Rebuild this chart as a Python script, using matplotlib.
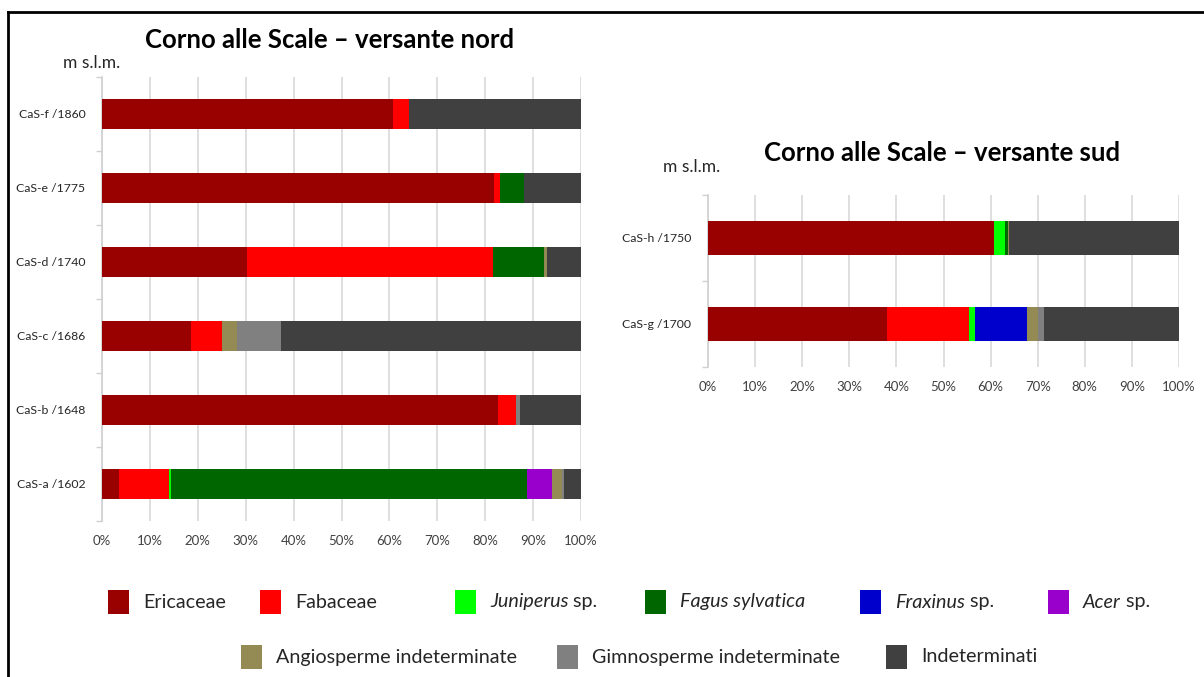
import matplotlib
matplotlib.use("Agg")
import matplotlib.pyplot as plt
from matplotlib.patches import Rectangle
from matplotlib.lines import Line2D
import numpy as np

plt.rcParams['font.family'] = ['Lato', 'DejaVu Sans']

# ---- data -------------------------------------------------------------
taxa = ["Ericaceae", "Fabaceae", "Juniperus", "Fagus sylvatica", "Fraxinus",
        "Acer", "Angiosperme indeterminate", "Gimnosperme indeterminate",
        "Indeterminati"]
colors = ["#990000", "#FF0000", "#00FF00", "#006600", "#0000CC",
          "#9900CC", "#948A54", "#808080", "#404040"]

# north slope, listed bottom to top
nord_labels = ["CaS-a /1602", "CaS-b /1648", "CaS-c /1686",
               "CaS-d /1740", "CaS-e /1775", "CaS-f /1860"]
nord_ericaceae = [3.6, 82.6, 18.5, 30.2, 81.8, 60.7]
nord_fabaceae = [10.4, 3.8, 6.5, 51.4, 1.2, 3.3]
nord_juniperus = [0.5, 0.0, 0.0, 0.0, 0.0, 0.0]
nord_fagus = [74.3, 0.0, 0.0, 10.6, 5.1, 0.0]
nord_fraxinus = [0.0, 0.0, 0.0, 0.0, 0.0, 0.0]
nord_acer = [5.2, 0.0, 0.0, 0.0, 0.0, 0.0]
nord_angio = [2.0, 0.0, 3.1, 0.8, 0.0, 0.0]
nord_gimno = [0.5, 0.8, 9.3, 0.0, 0.0, 0.0]
nord_indet = [3.5, 12.8, 62.6, 7.0, 11.9, 36.0]

# south slope, listed bottom to top
sud_labels = ["CaS-g /1700", "CaS-h /1750"]
sud_ericaceae = [38.1, 60.8]
sud_fabaceae = [17.3, 0.0]
sud_juniperus = [1.3, 2.2]
sud_fagus = [0.0, 0.6]
sud_fraxinus = [11.1, 0.0]
sud_acer = [0.0, 0.0]
sud_angio = [2.3, 0.3]
sud_gimno = [1.2, 0.0]
sud_indet = [28.7, 36.1]

nord_series = [nord_ericaceae, nord_fabaceae, nord_juniperus, nord_fagus,
               nord_fraxinus, nord_acer, nord_angio, nord_gimno, nord_indet]
sud_series = [sud_ericaceae, sud_fabaceae, sud_juniperus, sud_fagus,
              sud_fraxinus, sud_acer, sud_angio, sud_gimno, sud_indet]

# ---- figure -----------------------------------------------------------
W, H = 1204, 677
fig = plt.figure(figsize=(W / 100, H / 100), dpi=100)


def px(x, y):
    """pixel position (from top-left) to figure fraction"""
    return x / W, 1 - y / H


def stacked(ax, labels, series, bar_h, label_size):
    y = np.arange(len(labels))
    left = np.zeros(len(labels))
    for vals, c in zip(series, colors):
        vals = np.asarray(vals, dtype=float)
        ax.barh(y, vals, left=left, height=bar_h, color=c,
                edgecolor='none', zorder=3)
        left += vals
    ax.set_xlim(0, 100)
    ax.set_ylim(-0.5, len(labels) - 0.5)
    ax.set_yticks(y)
    ax.set_yticklabels(labels, fontsize=label_size, color='#262626')
    ax.set_yticks(np.arange(-0.5, len(labels)), minor=True)
    ax.tick_params(axis='y', which='major', length=0, pad=12)
    ax.tick_params(axis='y', which='minor', length=4, color='#d0d0d0',
                   width=1)
    ax.set_xticks(np.arange(0, 101, 10))
    ax.set_xticklabels([f"{v}%" for v in range(0, 101, 10)],
                       fontsize=9.5, color='#404040')
    ax.tick_params(axis='x', length=0, pad=10)
    ax.grid(axis='x', color='#d9d9d9', linewidth=1.2, zorder=0)
    for s in ['top', 'right', 'bottom']:
        ax.spines[s].set_visible(False)
    ax.spines['left'].set_color('#d0d0d0')
    ax.spines['left'].set_linewidth(1.2)


# north chart
x0, y0 = px(102, 521)
ax1 = fig.add_axes([x0, y0, 479 / W, 444 / H])
stacked(ax1, nord_labels, nord_series, 0.405, 8.8)

# south chart
x0, y0 = px(708, 367)
ax2 = fig.add_axes([x0, y0, 471 / W, 172 / H])
stacked(ax2, sud_labels, sud_series, 0.39, 8.8)

# titles and unit labels
fig.text(*px(330, 40), "Corno alle Scale – versante nord", ha='center',
         va='center', fontsize=18.5, fontweight='bold', color='black')
fig.text(*px(942, 153), "Corno alle Scale – versante sud", ha='center',
         va='center', fontsize=18.5, fontweight='bold', color='black')
fig.text(*px(63, 63), "m s.l.m.", ha='left', va='center', fontsize=12.5,
         color='#262626')
fig.text(*px(663, 167), "m s.l.m.", ha='left', va='center', fontsize=12.5,
         color='#262626')

# ---- legend -----------------------------------------------------------
legend_items = [
    # (colour index, italic part, plain part, square x, row y)
    (0, "", "Ericaceae", 108, 602),
    (1, "", "Fabaceae", 260, 602),
    (2, "Juniperus", " sp.", 455, 602),
    (3, "Fagus sylvatica", "", 645, 602),
    (4, "Fraxinus", " sp.", 860, 602),
    (5, "Acer", " sp.", 1048, 602),
    (6, "", "Angiosperme indeterminate", 241, 657),
    (7, "", "Gimnosperme indeterminate", 557, 657),
    (8, "", "Indeterminati", 886, 657),
]
renderer = fig.canvas.get_renderer()
fs_leg = 14.2
for ci, ital, plain, sx, sy in legend_items:
    rx, ry = px(sx, sy + 12)
    fig.patches.append(Rectangle((rx, ry), 21 / W, 24 / H,
                                 transform=fig.transFigure,
                                 facecolor=colors[ci], edgecolor='none'))
    tx, ty = px(sx + 35, sy)
    if ital:
        t = fig.text(tx, ty, ital, ha='left', va='center', fontsize=fs_leg,
                     style='italic', color='#262626')
        if plain:
            bb = t.get_window_extent(renderer=renderer)
            fig.text(bb.x1 / W, ty, plain, ha='left', va='center',
                     fontsize=fs_leg, color='#262626')
    else:
        fig.text(tx, ty, plain, ha='left', va='center', fontsize=fs_leg,
                 color='#262626')

# frame lines along top and left edges
fig.add_artist(Line2D([7.5 / W, 1], [1 - 11.5 / H, 1 - 11.5 / H],
                      transform=fig.transFigure, color='black', lw=2))
fig.add_artist(Line2D([7.5 / W, 7.5 / W], [0, 1 - 11.5 / H],
                      transform=fig.transFigure, color='black', lw=2))

fig.savefig("out.png", dpi=100)
